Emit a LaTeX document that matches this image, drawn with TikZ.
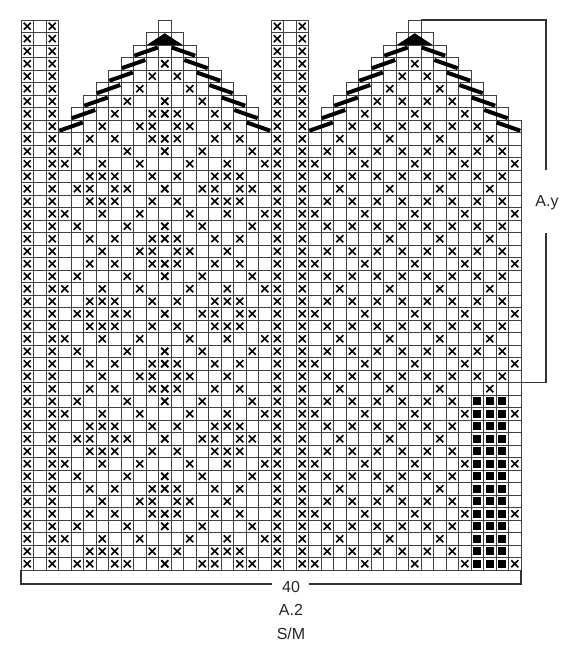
\documentclass[tikz,border=0pt]{standalone}
\usepackage{fontspec}
\setmainfont{Liberation Sans}
\newcommand\xmk[2]{\draw[xm] ({#1-0.5-0.28},{#2-0.5-0.28}) -- ({#1-0.5+0.28},{#2-0.5+0.28}) ({#1-0.5-0.28},{#2-0.5+0.28}) -- ({#1-0.5+0.28},{#2-0.5-0.28});}
\begin{document}
\begin{tikzpicture}[x=1pt,y=-1pt,
  cell/.style={draw=black!75,line width=0.9pt},
  xm/.style={draw=black,line width=1.5pt},
  dsh/.style={draw=black,line width=4pt},
  brk/.style={draw=black!80,line width=1.4pt},
  lbl/.style={font=\fontsize{16}{18}\selectfont,text=black!85,inner sep=0pt}]
\useasboundingbox (0,0) rectangle (575,650);
\fill[white] (0,0) rectangle (575,650);
\begin{scope}[shift={(21,20)},x=12.5pt,y=-12.5pt]
% strips
\foreach \c in {1,2,3,21,22,23} \foreach \r in {1,...,44} \draw[cell] (\c-1,\r-1) rectangle (\c,\r);
% triangles
\foreach \o in {0,20} {
  \foreach \r in {1,...,9} {
    \pgfmathtruncatemacro\a{13-\r+\o}
    \pgfmathtruncatemacro\b{11+\r+\o}
    \foreach \c in {\a,...,\b} \draw[cell] (\c-1,\r-1) rectangle (\c,\r);
  }
  \foreach \r in {10,...,44} {
    \pgfmathtruncatemacro\a{4+\o}
    \pgfmathtruncatemacro\b{20+\o}
    \foreach \c in {\a,...,\b} \draw[cell] (\c-1,\r-1) rectangle (\c,\r);
  }
}
% strip crosses
\foreach \c in {1,3,21,23} \foreach \r in {1,...,44} {\xmk{\c}{\r}}
% left motif
\foreach \r in {1,...,44} {
  \pgfmathtruncatemacro\m{mod(\r+1,10)}
  \pgfmathtruncatemacro\t{\m<=5 ? \m : 10-\m}
  \ifcase\t \def\lst{7,10,11}\or \def\lst{6,8,11,12}\or \def\lst{5,9,12}\or \def\lst{4,7,10}\or \def\lst{6,7,8,11}\or \def\lst{5,6,8,9,12}\fi
  \foreach \c in \lst {
    \pgfmathtruncatemacro\ok{((\r>9)||(\c>14-\r)) ? 1 : 0}
    \ifnum\ok=1 \xmk{\c}{\r}\xmk{24-\c}{\r}\fi
  }
}
% right motif
\foreach \r in {1,...,44} {
  \pgfmathtruncatemacro\q{mod(\r,4)}
  \ifodd\r\relax \def\lst{25,27,...,39}\else\ifnum\q=2 \def\lst{26,30,34,38}\else\def\lst{24,28,...,40}\fi\fi
  \foreach \c in \lst {
    \pgfmathtruncatemacro\ok{(((\r>9)||((\c>34-\r)&&(\c<30+\r))) && ((\r<31)||(\c<37)||(\c>39))) ? 1 : 0}
    \ifnum\ok=1 \xmk{\c}{\r}\fi
  }
}
% black squares
\foreach \r in {31,...,44} \foreach \c in {37,38,39} \fill[black] (\c-0.82,\r-0.82) rectangle (\c-0.18,\r-0.18);
% decrease marks
\foreach \o in {0,20} {
  \foreach \r in {3,...,9} {
    \pgfmathsetmacro\xl{12-\r+\o}
    \pgfmathsetmacro\xr{11+\r+\o}
    \draw[dsh] (\xl+0.064,\r-0.144) -- (\xl+1.94,\r-0.8);
    \draw[dsh] (\xr-0.064,\r-0.144) -- (\xr-1.94,\r-0.8);
  }
  \fill[black] (10.06+\o,2) -- (11.5+\o,1.06) -- (12.94+\o,2) -- cycle;
}
\end{scope}
% labels
\node[lbl] (n40) at (291,587) {40};
\node[lbl] (a2) at (291,610) {A.2};
\node[lbl] (sm) at (291,634) {S/M};
\node[lbl] (ay) at (547,203) {A.y};
% brackets
\coordinate (bl) at (21,570);
\coordinate (br) at (521,570);
\coordinate (bg1) at (272,584);
\coordinate (bg2) at (309,584);
\coordinate (rt) at (421,20);
\coordinate (rg1) at (546,170);
\coordinate (rg2) at (546,233);
\coordinate (rb) at (521,382.5);
\draw[brk] (bl) -- (21,584) -- (bg1);
\draw[brk] (bg2) -- (521,584) -- (br);
\draw[brk] (rt) -- (546,20) -- (rg1);
\draw[brk] (rg2) -- (546,382.5) -- (rb);
\end{tikzpicture}
\end{document}
